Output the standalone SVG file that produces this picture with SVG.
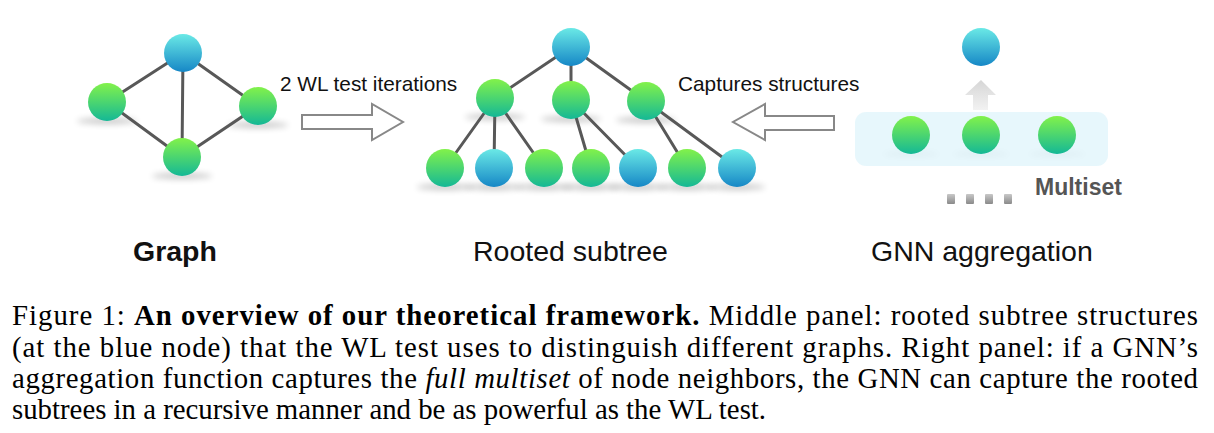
<svg xmlns="http://www.w3.org/2000/svg" width="1214" height="433" viewBox="0 0 1214 433">
<style>
.edge{stroke:#585858;stroke-width:3;stroke-linecap:round}
.g{fill:url(#gg)}
.b{fill:url(#gb)}
.sh{fill:#000;opacity:0.22;filter:url(#blur)}
.lbl{font-family:"Liberation Sans",Arial,sans-serif;font-size:20.8px;fill:#111}
.big{font-family:"Liberation Sans",Arial,sans-serif;font-size:28.5px;fill:#111}
.cap{font-family:"Liberation Serif","Times New Roman",serif;font-size:28.8px;fill:#000}
.hollow{fill:#fff;stroke:#888;stroke-width:2}
</style>
<defs>
<linearGradient id="gg" x1="0" y1="0" x2="0" y2="1">
<stop offset="0" stop-color="#82f24a"/>
<stop offset="1" stop-color="#14b896"/>
</linearGradient>
<linearGradient id="gb" x1="0" y1="0" x2="0" y2="1">
<stop offset="0" stop-color="#6ae9e6"/>
<stop offset="1" stop-color="#1687c6"/>
</linearGradient>
<linearGradient id="gsq" x1="0" y1="0" x2="0" y2="1">
<stop offset="0" stop-color="#c8c8c8"/>
<stop offset="1" stop-color="#8a8a8a"/>
</linearGradient>
<linearGradient id="gup" x1="0" y1="0" x2="0" y2="1">
<stop offset="0" stop-color="#d6d6d6"/>
<stop offset="1" stop-color="#f2f2f2"/>
</linearGradient>
<filter id="blur" x="-50%" y="-200%" width="200%" height="500%"><feGaussianBlur stdDeviation="3"/></filter>
</defs>
<rect width="1214" height="433" fill="#fff"/>

<!-- shadows -->
<g id="shadows">
<ellipse class="sh" cx="107" cy="121" rx="30" ry="3"/>
<ellipse class="sh" cx="258" cy="125" rx="30" ry="3"/>
<ellipse class="sh" cx="182" cy="176" rx="30" ry="3"/>
<ellipse class="sh" cx="495" cy="117" rx="30" ry="3"/>
<ellipse class="sh" cx="571" cy="119" rx="30" ry="3"/>
<ellipse class="sh" cx="646" cy="120" rx="30" ry="3"/>
<ellipse class="sh" cx="445" cy="187" rx="28" ry="3"/>
<ellipse class="sh" cx="494" cy="187" rx="28" ry="3"/>
<ellipse class="sh" cx="544" cy="187" rx="28" ry="3"/>
<ellipse class="sh" cx="591" cy="187" rx="28" ry="3"/>
<ellipse class="sh" cx="638" cy="187" rx="28" ry="3"/>
<ellipse class="sh" cx="687" cy="187" rx="28" ry="3"/>
<ellipse class="sh" cx="737" cy="187" rx="28" ry="3"/>
<ellipse class="sh" cx="911" cy="154" rx="28" ry="3"/>
<ellipse class="sh" cx="981" cy="154" rx="28" ry="3"/>
<ellipse class="sh" cx="1057" cy="154" rx="28" ry="3"/>
</g>

<!-- connectors -->
<g id="connectors">
<line class="edge" x1="183" y1="53" x2="107" y2="102"/>
<line class="edge" x1="183" y1="53" x2="258" y2="106"/>
<line class="edge" x1="183" y1="53" x2="182" y2="157"/>
<line class="edge" x1="107" y1="102" x2="182" y2="157"/>
<line class="edge" x1="258" y1="106" x2="182" y2="157"/>

<line class="edge" x1="571" y1="47" x2="495" y2="98"/>
<line class="edge" x1="571" y1="47" x2="571" y2="100"/>
<line class="edge" x1="571" y1="47" x2="646" y2="101"/>
<line class="edge" x1="495" y1="98" x2="445" y2="168"/>
<line class="edge" x1="495" y1="98" x2="494" y2="168"/>
<line class="edge" x1="495" y1="98" x2="544" y2="168"/>
<line class="edge" x1="571" y1="100" x2="591" y2="168"/>
<line class="edge" x1="571" y1="100" x2="638" y2="168"/>
<line class="edge" x1="646" y1="101" x2="687" y2="168"/>
<line class="edge" x1="646" y1="101" x2="737" y2="168"/>

<polygon class="hollow" points="302,115 372,115 372,104 403,122 372,140 372,129 302,129"/>
<polygon class="hollow" points="834,116 765,116 765,104 733,122 765,140 765,130 834,130"/>
<polygon fill="url(#gup)" points="973,110 973,95 965,95 981,80 996,95 988,95 988,110"/>
</g>

<!-- left graph -->
<g id="graph-top"><circle class="b" cx="183" cy="53" r="19"/></g>
<g id="graph-left"><circle class="g" cx="107" cy="102" r="19"/></g>
<g id="graph-right"><circle class="g" cx="258" cy="106" r="19"/></g>
<g id="graph-bottom"><circle class="g" cx="182" cy="157" r="19"/></g>

<!-- tree -->
<g id="tree-root"><circle class="b" cx="571" cy="47" r="19"/></g>
<g id="tree-a"><circle class="g" cx="495" cy="98" r="19"/></g>
<g id="tree-b"><circle class="g" cx="571" cy="100" r="19"/></g>
<g id="tree-c"><circle class="g" cx="646" cy="101" r="19"/></g>
<g id="leaf-1"><circle class="g" cx="445" cy="168" r="19"/></g>
<g id="leaf-2"><circle class="b" cx="494" cy="168" r="19"/></g>
<g id="leaf-3"><circle class="g" cx="544" cy="168" r="19"/></g>
<g id="leaf-4"><circle class="g" cx="591" cy="168" r="19"/></g>
<g id="leaf-5"><circle class="b" cx="638" cy="168" r="19"/></g>
<g id="leaf-6"><circle class="g" cx="687" cy="168" r="19"/></g>
<g id="leaf-7"><circle class="b" cx="737" cy="168" r="19"/></g>

<!-- GNN aggregation -->
<g id="multiset-box"><rect x="855" y="112" width="253" height="54" rx="11" fill="#e3f6fb" opacity="0.85"/></g>
<g id="agg-top"><circle class="b" cx="981" cy="47" r="19"/></g>
<g id="agg-1"><circle class="g" cx="911" cy="135" r="19"/></g>
<g id="agg-2"><circle class="g" cx="981" cy="135" r="19"/></g>
<g id="agg-3"><circle class="g" cx="1057" cy="135" r="19"/></g>
<g id="dots">
<rect x="947" y="194" width="8" height="10" rx="1" fill="url(#gsq)"/>
<rect x="966" y="194" width="8" height="10" rx="1" fill="url(#gsq)"/>
<rect x="985" y="194" width="8" height="10" rx="1" fill="url(#gsq)"/>
<rect x="1004" y="194" width="8" height="10" rx="1" fill="url(#gsq)"/>
</g>

<!-- labels -->
<text class="lbl" x="280" y="91">2 WL test iterations</text>
<text class="lbl" x="678" y="91">Captures structures</text>
<text x="1035" y="195" font-family="Liberation Sans,Arial,sans-serif" font-size="23" font-weight="bold" fill="#555">Multiset</text>
<text class="big" x="133" y="261" font-weight="bold">Graph</text>
<text class="big" x="473" y="261">Rooted subtree</text>
<text class="big" x="871" y="261">GNN aggregation</text>

<!-- caption -->
<text class="cap" x="12" y="325" textLength="1186" lengthAdjust="spacing">Figure 1:  <tspan font-weight="bold">An overview of our theoretical framework.</tspan>  Middle panel:  rooted subtree structures</text>
<text class="cap" x="12" y="357" textLength="1186" lengthAdjust="spacing">(at the blue node) that the WL test uses to distinguish different graphs.  Right panel:  if a GNN’s</text>
<text class="cap" x="12" y="388" textLength="1186" lengthAdjust="spacing">aggregation function captures the <tspan font-style="italic">full multiset</tspan> of node neighbors, the GNN can capture the rooted</text>
<text class="cap" x="12" y="419">subtrees in a recursive manner and be as powerful as the WL test.</text>
</svg>
